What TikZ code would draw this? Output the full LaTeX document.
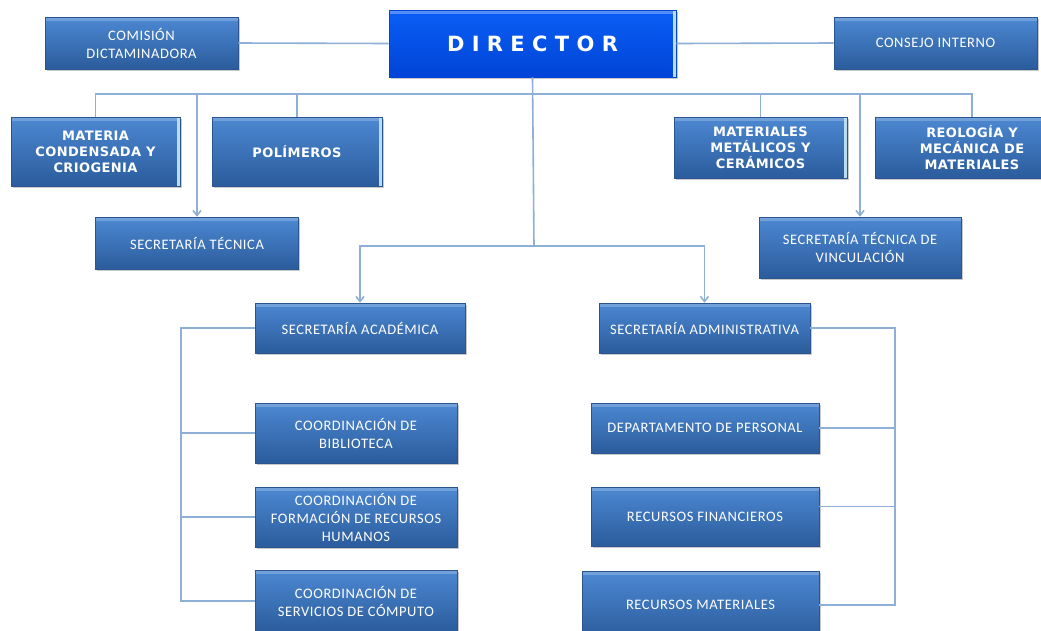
\documentclass[tikz,border=0pt]{standalone}
\usepackage{fontspec}
\setmainfont{Carlito}
\newfontfamily\heavyfont{DejaVu Sans Bold}[LetterSpace=3]
\newfontfamily\dirfont{DejaVu Sans Bold}[LetterSpace=35]
\usetikzlibrary{shadows,arrows.meta}

\definecolor{boxtop}{HTML}{4C88D2}
\definecolor{boxbot}{HTML}{2B5C9C}
\definecolor{boxedge}{HTML}{2A5590}
\definecolor{dirtop}{HTML}{0A5EF6}
\definecolor{dirbot}{HTML}{0044D6}
\definecolor{linkc}{HTML}{8EAFD6}
\definecolor{rimc}{HTML}{B8DDF2}

\tikzset{
  box/.style={draw=boxedge, line width=0.6pt, top color=boxtop, bottom color=boxbot,
    text=white, align=center, inner sep=2pt,
    drop shadow={shadow xshift=1.5pt, shadow yshift=-2pt, opacity=0.35, fill=black!60},
    path picture={
      \fill[white, opacity=0.22] (path picture bounding box.north west)
        rectangle ([yshift=-4pt]path picture bounding box.north east);
    },
    font=\fontsize{14.5}{18}\selectfont\addfontfeatures{LetterSpace=4}},
  unit/.style={box, font=\heavyfont\fontsize{13}{16}\selectfont,
    path picture={
      \fill[white, opacity=0.22] (path picture bounding box.north west)
        rectangle ([yshift=-4pt]path picture bounding box.north east);
      \fill[rimc] ([xshift=-3pt]path picture bounding box.north east)
        rectangle (path picture bounding box.south east);
    }},
  chief/.style={draw=dirbot, line width=0.6pt, top color=dirtop, bottom color=dirbot,
    text=white, align=center,
    drop shadow={shadow xshift=1.5pt, shadow yshift=-2pt, opacity=0.35, fill=black!60},
    path picture={
      \fill[white, opacity=0.3] (path picture bounding box.north west)
        rectangle ([yshift=-4pt]path picture bounding box.north east);
      \fill[rimc] ([xshift=-3pt]path picture bounding box.north east)
        rectangle (path picture bounding box.south east);
    },
    font=\dirfont\fontsize{21}{24}\selectfont},
  link/.style={draw=linkc, line width=1.6pt},
  arr/.style={link, -{Straight Barb[length=5pt,width=8pt]}},
}

\begin{document}
\begin{tikzpicture}[x=1pt, y=-1pt]
\fill[white] (0,0) rectangle (1041,630);
\useasboundingbox (0,0) rectangle (1041,630);

% top row
\node[chief, minimum width=287pt, minimum height=67pt] (dir) at (532.5,43.5) {DIRECTOR};
\node[box, minimum width=193pt, minimum height=52pt] (com) at (141.5,43) {COMISIÓN\\DICTAMINADORA};
\node[box, minimum width=203pt, minimum height=52pt] (con) at (935.5,43) {CONSEJO INTERNO};

% research departments
\node[unit, minimum width=169pt, minimum height=69pt] (mcc) at (95.5,151.5) {MATERIA\\CONDENSADA Y\\CRIOGENIA};
\node[unit, minimum width=170pt, minimum height=69pt] (pol) at (297,151.5) {POLÍMEROS};
\node[unit, minimum width=173pt, minimum height=61pt] (mmc) at (760.5,147.5) {MATERIALES\\METÁLICOS Y\\CERÁMICOS};
\node[unit, minimum width=194pt, minimum height=61pt] (reo) at (972,147.5) {REOLOGÍA Y\\MECÁNICA DE\\MATERIALES};

% technical secretariats
\node[box, minimum width=203pt, minimum height=52pt] (sect) at (197,243) {SECRETARÍA TÉCNICA};
\node[box, minimum width=202pt, minimum height=61pt] (stv) at (860,247.5) {SECRETARÍA TÉCNICA DE\\VINCULACIÓN};

% secretariats
\node[box, minimum width=210pt, minimum height=50pt] (sac) at (360,328) {SECRETARÍA ACADÉMICA};
\node[box, minimum width=211pt, minimum height=50pt] (sad) at (704.5,328) {SECRETARÍA ADMINISTRATIVA};

% academic coordinations
\node[box, minimum width=202pt, minimum height=60pt] (cbib) at (356,433) {COORDINACIÓN DE\\BIBLIOTECA};
\node[box, minimum width=202pt, minimum height=60pt] (cfor) at (356,517) {COORDINACIÓN DE\\FORMACIÓN DE RECURSOS\\HUMANOS};
\node[box, minimum width=202pt, minimum height=62pt] (cser) at (356,601) {COORDINACIÓN DE\\SERVICIOS DE CÓMPUTO};

% administrative offices
\node[box, minimum width=228pt, minimum height=50pt] (dper) at (705,428) {DEPARTAMENTO DE PERSONAL};
\node[box, minimum width=228pt, minimum height=59pt] (rfin) at (705,516.5) {RECURSOS FINANCIEROS};
\node[box, minimum width=237pt, minimum height=68pt] (rmat) at (700.5,605) {RECURSOS MATERIALES};

% connectors
\coordinate (bus) at (534,94);
\coordinate (split) at (534,246);
\coordinate (lbus) at (181,0);
\coordinate (rbus) at (895,0);

\draw[link] (com.east) -- (dir.west);
\draw[link] (dir.east) -- (con.west);
\draw[link] (mcc.north) |- (bus) -| (reo.north);
\draw[link] (pol.north) -- (pol.north |- bus);
\draw[link] (mmc.north) -- (mmc.north |- bus);
\draw[link] (dir.south) -- (split);
\draw[arr] (sect.north |- bus) -- (sect.north);
\draw[arr] (stv.north |- bus) -- (stv.north);
\draw[arr] (split) -| (sac.north);
\draw[arr] (split) -| (sad.north);

\draw[link] (sac.west) -- (sac.west -| lbus) |- (cser.west);
\draw[link] (cbib.west -| lbus) -- (cbib.west);
\draw[link] (cfor.west -| lbus) -- (cfor.west);

\draw[link] (sad.east) -- (sad.east -| rbus) |- (rmat.east);
\draw[link] (dper.east -| rbus) -- (dper.east);
\draw[link] ([yshift=10pt]rfin.east -| rbus) -- ([yshift=10pt]rfin.east);
\end{tikzpicture}
\end{document}
